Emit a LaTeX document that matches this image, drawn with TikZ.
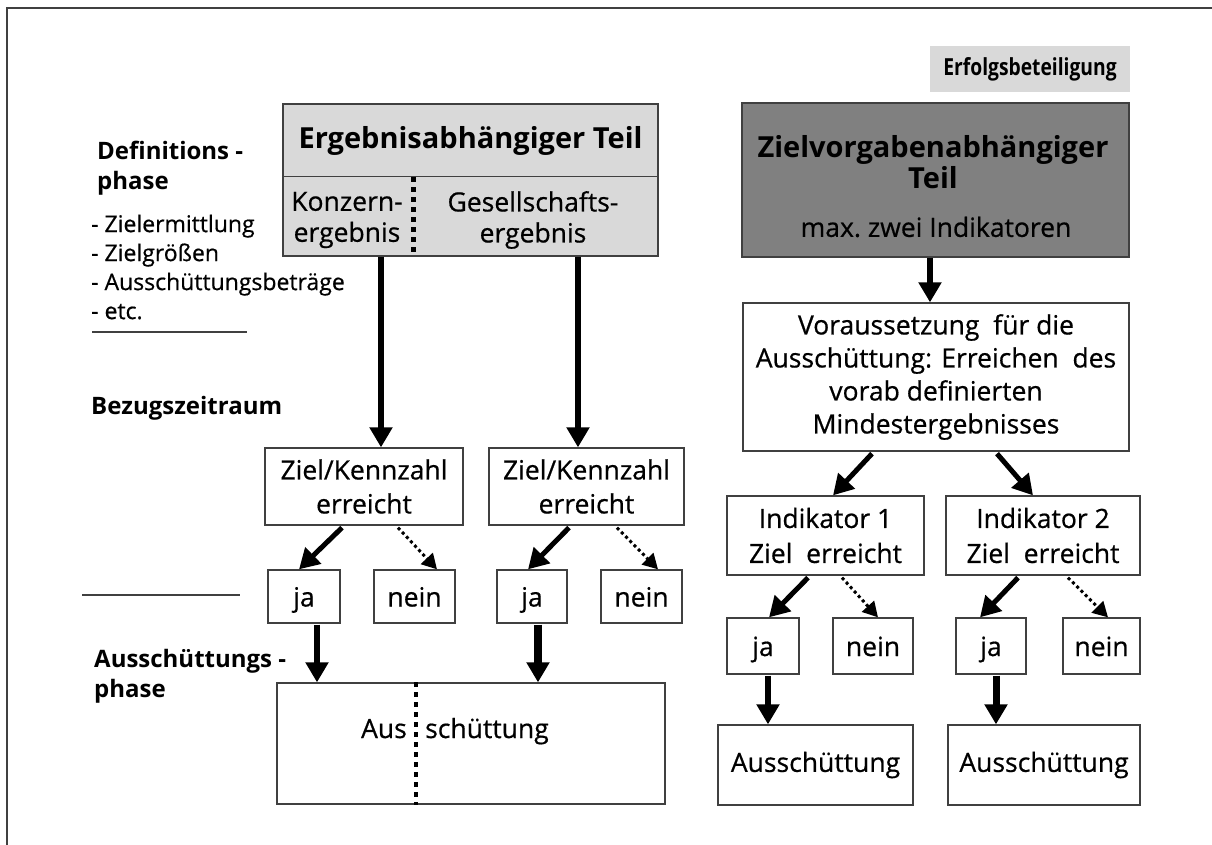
\documentclass[tikz,border=0pt]{standalone}
\usepackage{fontspec}
\setmainfont{Open Sans}[UprightFeatures={FakeBold=0.6}]
\newfontfamily\narrowbold{Open Sans Bold}[FakeStretch=0.82]
\usetikzlibrary{arrows.meta}
\definecolor{lgray}{HTML}{D9D9D9}
\definecolor{dgray}{HTML}{808080}
\definecolor{edge}{HTML}{404040}
\begin{document}
\begin{tikzpicture}[x=1pt,y=-1pt,
  box/.style={draw=edge, line width=1.3pt, fill=white, align=center, inner sep=0pt,
    font=\fontsize{26.5}{34}\selectfont},
  jn/.style={box, text height=26pt, text depth=6pt},
  txt/.style={inner sep=0pt, align=center, font=\fontsize{26.5}{31}\selectfont},
  lab/.style={inner sep=0pt, anchor=west, align=left, font=\bfseries\fontsize{24}{30}\selectfont},
  lst/.style={inner sep=0pt, anchor=west, align=left, font=\fontsize{23}{29}\selectfont},
  fat/.style={line width=6pt, -{Triangle[width=22pt,length=20pt]}},
  dotarr/.style={line width=3pt, dash pattern=on 3pt off 3pt, -{Triangle[width=16pt,length=15pt]}},
  divdot/.style={line width=5pt, dash pattern=on 5pt off 5pt},
  rule/.style={edge, line width=1.2pt}]
\useasboundingbox (0,0) rectangle (1212,845);
% frame
\coordinate (fTL) at (7,8);
\coordinate (fTR) at (1212,8);
\coordinate (fBL) at (7,845);
\draw[rule] (fTR) -- (fTL) -- (fBL);

% left labels
\node[lab] (defL) at (97,168) {Definitions -\\phase};
\node[lst] (defList) at (91,267) {- Zielermittlung\\- Zielgrößen\\- Ausschüttungsbeträge\\- etc.};
\coordinate (r1a) at (92,332);
\coordinate (r1b) at (247,332);
\draw[rule] (r1a) -- (r1b);
\node[lab] (bez) at (91,408) {Bezugszeitraum};
\coordinate (r2a) at (82,595);
\coordinate (r2b) at (240,595);
\draw[rule] (r2a) -- (r2b);
\node[lab] (ausL) at (94,676) {Ausschüttungs -\\phase};

% left top box
\node[draw=edge, line width=1.3pt, fill=lgray, minimum width=375pt, minimum height=152pt, inner sep=0pt] (erg) at (470.5,180) {};
\draw[edge, line width=1.3pt] ([yshift=-73pt]erg.north west) -- ([yshift=-73pt]erg.north east);
\node[inner sep=0pt, font=\bfseries\fontsize{29}{34}\selectfont] (ergT) at (470.5,141) {Ergebnisabhängiger Teil};
\node[txt] (kon) at (347,220) {Konzern-\\ergebnis};
\node[txt] (ges) at (533,220) {Gesellschafts-\\ergebnis};
\draw[divdot] ([xshift=-57.5pt,yshift=-74pt]erg.north) -- ([xshift=-57.5pt]erg.south);

% left level 2
\node[box, minimum width=198pt, minimum height=77pt] (zk1) at (364,486.5) {Ziel/Kennzahl\\erreicht};
\node[box, minimum width=195pt, minimum height=77pt] (zk2) at (586.5,486.5) {Ziel/Kennzahl\\erreicht};
\draw[fat] ([xshift=-89.5pt]erg.south) -- ([xshift=17pt]zk1.north);
\draw[fat] ([xshift=107.5pt]erg.south) -- ([xshift=-8.5pt]zk2.north);

% ja / nein left
\node[jn, minimum width=72pt, minimum height=53pt] (ja1) at (304,596.5) {ja};
\node[jn, minimum width=81pt, minimum height=53pt] (nein1) at (414.5,596.5) {nein};
\node[jn, minimum width=70pt, minimum height=53pt] (ja2) at (532,596.5) {ja};
\node[jn, minimum width=81pt, minimum height=53pt] (nein2) at (641.5,596.5) {nein};
\draw[fat, line width=5pt] ([xshift=-22pt,yshift=-2pt]zk1.south) -- ([xshift=-5pt]ja1.north);
\draw[dotarr] ([xshift=34pt,yshift=-2pt]zk1.south) -- ([xshift=22.5pt]nein1.north);
\draw[fat, line width=5pt] ([xshift=-17.5pt,yshift=-2pt]zk2.south) -- ([xshift=-4pt]ja2.north);
\draw[dotarr] ([xshift=30.5pt,yshift=-2pt]zk2.south) -- ([xshift=16.5pt]nein2.north);

% left Ausschuettung
\node[box, minimum width=388pt, minimum height=121pt] (aus) at (471,743.5) {};
\draw[fat] ([xshift=13pt,yshift=-1pt]ja1.south) -- ([xshift=-154pt]aus.north);
\draw[fat, line width=8pt] ([xshift=6pt,yshift=-1pt]ja2.south) -- ([xshift=67pt]aus.north);
\draw[divdot, line width=4.5pt] ([xshift=-55pt]aus.north) -- ([xshift=-55pt]aus.south);
\node[txt, anchor=base east] (ausA) at (407,738) {Aus};
\node[txt, anchor=base west] (ausB) at (425,738) {schüttung};

% right side
\node[fill=lgray, minimum width=200pt, minimum height=46pt, inner sep=0pt, font=\narrowbold\fontsize{23.5}{26}\selectfont] (erf) at (1030,69) {Erfolgsbeteiligung};
\node[draw=edge, line width=1.3pt, fill=dgray, minimum width=387pt, minimum height=154pt, inner sep=0pt] (ziel) at (935.5,180) {};
\node[inner sep=0pt, align=center, font=\bfseries\fontsize{29}{31}\selectfont] (zielT) at (933,162) {Zielvorgabenabhängiger\\Teil};
\node[txt] (zielS) at (936,227) {max.\ zwei Indikatoren};
\node[box, minimum width=386pt, minimum height=148pt, font=\fontsize{26.5}{33}\selectfont] (vor) at (936,377) {Voraussetzung \ für die\\Ausschüttung: Erreichen \ des\\vorab definierten\\Mindestergebnisses};
\draw[fat] ([xshift=-5.5pt]ziel.south) -- ([xshift=-6pt]vor.north);

\node[box, minimum width=197pt, minimum height=79pt, font=\fontsize{26.5}{35}\selectfont] (ind1) at (825.5,535.5) {Indikator 1\\Ziel \ erreicht};
\node[box, minimum width=194pt, minimum height=79pt, font=\fontsize{26.5}{35}\selectfont] (ind2) at (1043,535.5) {Indikator 2\\Ziel \ erreicht};
\draw[fat, line width=5pt] ([xshift=-64pt,yshift=-2pt]vor.south) -- ([xshift=7.5pt]ind1.north);
\draw[fat, line width=5pt] ([xshift=61pt,yshift=-2pt]vor.south) -- ([xshift=-10pt]ind2.north);

\node[jn, minimum width=72pt, minimum height=56pt] (ja3) at (763,646) {ja};
\node[jn, minimum width=80pt, minimum height=56pt] (nein3) at (873,646) {nein};
\node[jn, minimum width=70pt, minimum height=56pt] (ja4) at (991,646) {ja};
\node[jn, minimum width=77pt, minimum height=56pt] (nein4) at (1101.5,646) {nein};
\draw[fat, line width=5pt] ([xshift=-17.5pt,yshift=-2pt]ind1.south) -- ([xshift=6pt]ja3.north);
\draw[dotarr] ([xshift=16.5pt,yshift=-2pt]ind1.south) -- ([xshift=5pt]nein3.north);
\draw[fat, line width=5pt] ([xshift=-25pt,yshift=-2pt]ind2.south) -- ([xshift=-11pt]ja4.north);
\draw[dotarr] ([xshift=25pt,yshift=-2pt]ind2.south) -- ([xshift=6.5pt]nein4.north);

\node[box, minimum width=195pt, minimum height=80pt] (aus3) at (815.5,765) {Ausschüttung};
\node[box, minimum width=192pt, minimum height=80pt] (aus4) at (1044,765) {Ausschüttung};
\draw[fat] ([xshift=5pt,yshift=-1pt]ja3.south) -- ([xshift=-47.5pt]aus3.north);
\draw[fat, line width=7pt] ([xshift=5pt,yshift=-1pt]ja4.south) -- ([xshift=-48pt]aus4.north);
\end{tikzpicture}
\end{document}
